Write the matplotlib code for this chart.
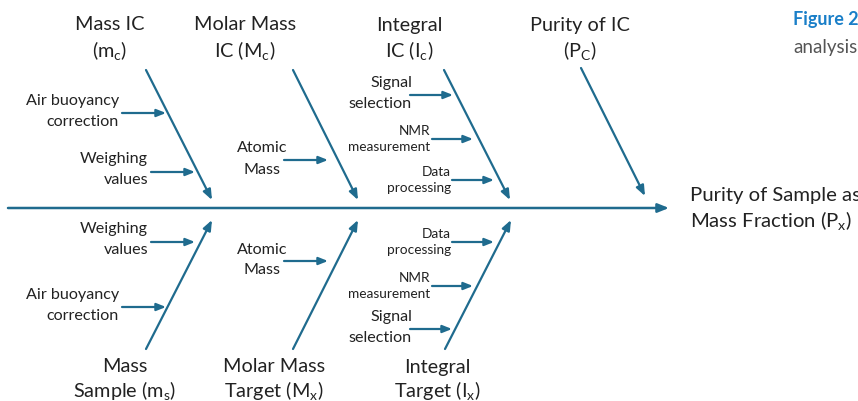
import matplotlib
matplotlib.use("Agg")
import matplotlib.pyplot as plt

FONT = "Lato"
plt.rcParams['font.family'] = [FONT, 'DejaVu Sans']
plt.rcParams['mathtext.fontset'] = 'custom'
plt.rcParams['mathtext.rm'] = FONT
plt.rcParams['mathtext.it'] = FONT

# ---- content ----
top_categories = ["Mass IC\n(m$_{\\mathregular{c}}$)",
                  "Molar Mass\nIC (M$_{\\mathregular{c}}$)",
                  "Integral\nIC (I$_{\\mathregular{c}}$)",
                  "Purity of IC\n(P$_{\\mathregular{C}}$)"]
bottom_categories = ["Mass\nSample (m$_{\\mathregular{s}}$)",
                     "Molar Mass\nTarget (M$_{\\mathregular{x}}$)",
                     "Integral\nTarget (I$_{\\mathregular{x}}$)"]
top_causes = [["Air buoyancy\ncorrection", "Weighing\nvalues"],
              ["Atomic\nMass"],
              ["Signal\nselection", "NMR\nmeasurement", "Data\nprocessing"],
              []]
bottom_causes = [["Weighing\nvalues", "Air buoyancy\ncorrection"],
                 ["Atomic\nMass"],
                 ["Data\nprocessing", "NMR\nmeasurement", "Signal\nselection"]]
effect_label = "Purity of Sample as\nMass Fraction (P$_{\\mathregular{x}}$)"
caption_title = "Figure 2"
caption_text = "analysis"

# ---- layout (pixel coords) ----
W, H = 858, 401
C = "#1f6b8e"
TXT = "#222222"
FS_BIG = 14.3
FS_MID = 11.6
FS_SMALL = 9.8

fig = plt.figure(figsize=(W / 100, H / 100), dpi=100)
ax = fig.add_axes([0, 0, 1, 1])
ax.set_xlim(0, W)
ax.set_ylim(H, 0)
ax.axis("off")

def arrow(x0, y0, x1, y1, lw=1.6, ms=11):
    ax.annotate("", xy=(x1, y1), xytext=(x0, y0),
                arrowprops=dict(arrowstyle="-|>,head_length=0.55,head_width=0.22",
                                color=C, lw=lw, mutation_scale=ms,
                                shrinkA=0, shrinkB=0))

# spine
arrow(8, 208, 669, 208, lw=1.8, ms=12)

# top bones: (start, end)
top_bones = [((146, 70), (212, 200)), ((293, 70), (358, 200)),
             ((444, 70), (510, 200)), ((581, 68), (645, 196))]
top_title_pos = [(110, 25, 50), (245, 25, 50), (409, 25, 50), (580, 25, 50)]
bot_bones = [((146, 349), (212, 220)), ((293, 349), (358, 220)),
             ((445, 349), (511, 220))]
bot_title_pos = [(125, 367, 390), (274, 367, 390), (437, 367, 390)]

for (s, e) in top_bones:
    arrow(s[0], s[1], e[0], e[1])
for (s, e) in bot_bones:
    arrow(s[0], s[1], e[0], e[1])

def two_line(x, y1, y2, label, fs=FS_BIG):
    l1, l2 = label.split("\n")
    ax.text(x, y1, l1, ha="center", va="center", fontsize=fs, color=TXT)
    ax.text(x, y2, l2, ha="center", va="center", fontsize=fs, color=TXT)

for lab, (x, y1, y2) in zip(top_categories, top_title_pos):
    two_line(x, y1, y2, lab)
for lab, (x, y1, y2) in zip(bottom_categories, bot_title_pos):
    two_line(x, y1, y2, lab)

# cause arrows: (x_start, x_end, y, text_x, small)
top_cause_geo = [[(122, 166, 113, 119, False), (151, 195, 172, 148, False)],
                 [(284, 328, 160, 288, False)],
                 [(410, 453, 95, 412, False), (432, 473, 139, 430, True),
                  (452, 494, 180, 451, True)],
                 []]
bot_cause_geo = [[(151, 195, 242, 148, False), (122, 166, 307, 119, False)],
                 [(284, 328, 261, 288, False)],
                 [(452, 494, 242, 451, True), (432, 473, 286, 430, True),
                  (410, 452, 329, 412, False)]]

def cause(label, geo):
    x0, x1, y, tx, small = geo
    arrow(x0, y, x1, y, lw=1.6, ms=10)
    fs = FS_SMALL if small else FS_MID
    dy = 8 if small else 10.5
    l1, l2 = label.split("\n")
    if label.startswith("Atomic"):
        ax.text(262, y - dy - 1, l1, ha="center", va="center", fontsize=fs, color=TXT)
        ax.text(262, y + dy - 1, l2, ha="center", va="center", fontsize=fs, color=TXT)
        return
    if label.startswith("Weighing"):
        ax.text(tx, y - dy - 3, l1, ha="right", va="center", fontsize=fs, color=TXT)
        ax.text(tx, y + dy - 3, l2, ha="right", va="center", fontsize=fs, color=TXT)
        return
    off = 0 if small else -1
    ax.text(tx, y - dy + off, l1, ha="right", va="center", fontsize=fs, color=TXT)
    ax.text(tx, y + dy + off, l2, ha="right", va="center", fontsize=fs, color=TXT)

for labs, geos in zip(top_causes, top_cause_geo):
    for lab, g in zip(labs, geos):
        cause(lab, g)
for labs, geos in zip(bottom_causes, bot_cause_geo):
    for lab, g in zip(labs, geos):
        cause(lab, g)

# effect
e1, e2 = effect_label.split("\n")
ax.text(690, 196, e1, ha="left", va="center", fontsize=FS_BIG + 0.3, color=TXT)
ax.text(690, 221, e2, ha="left", va="center", fontsize=FS_BIG + 0.3, color=TXT)

# caption fragment
ax.text(793, 20, caption_title, ha="left", va="center", fontsize=13,
        color="#1a7fc8", fontweight="bold")
ax.text(793, 48, caption_text, ha="left", va="center", fontsize=13.5,
        color="#555555")

fig.savefig("out.png", dpi=100)
